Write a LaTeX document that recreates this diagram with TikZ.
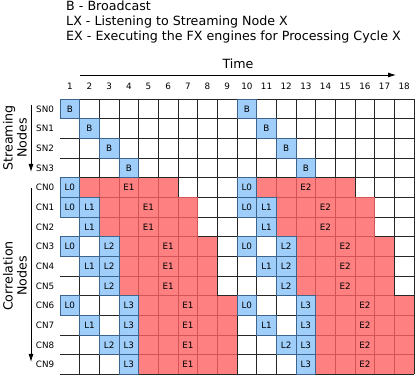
\documentclass[tikz,border=0pt]{standalone}
\usepackage{fontspec}
\setmainfont{DejaVu Sans}
\usetikzlibrary{arrows.meta}
\definecolor{bcast}{RGB}{136,194,249}
\definecolor{bcline}{RGB}{60,100,140}
\definecolor{exec}{RGB}{255,96,96}

\begin{document}
\begin{tikzpicture}[x=0.03cm, y=-0.03cm,
  big/.style={font=\fontsize{10.8}{12}\selectfont, inner sep=0pt},
  lbl/.style={font=\fontsize{7.5}{8}\selectfont, inner sep=0pt},
  grd/.style={draw=black!85, line width=0.7pt},
  bc/.style={fill=bcast, fill opacity=0.8, draw=bcline, line width=0.7pt},
  ec/.style={fill=exec, fill opacity=0.8},
  arr/.style={-{Latex[length=2.4mm,width=1.5mm]}, line width=0.7pt}
]
  \useasboundingbox (0,0) rectangle (415,376);

  % legend
  \node[big, anchor=base west] (lgb) at (66,11) {B - Broadcast};
  \node[big, anchor=base west] (lgl) at (66,26) {LX - Listening to Streaming Node X};
  \node[big, anchor=base west] (lge) at (66,41) {EX - Executing the FX engines for Processing Cycle X};

  % time axis
  \node[big] (time) at (238,64) {Time};
  \coordinate (t0) at (80,75);
  \coordinate (t1) at (396,75);
  \draw[arr] (t0) -- (t1);

  % node groups on the left
  \node[big, rotate=90, align=center] (sn) at (15,138) {Streaming\\Nodes};
  \coordinate (sn0) at (31,105);
  \coordinate (sn1) at (31,172);
  \draw[arr] (sn0) -- (sn1);
  \node[big, rotate=90, align=center] (cn) at (15,276) {Correlation\\Nodes};
  \coordinate (cn0) at (31,188);
  \coordinate (cn1) at (31,362);
  \draw[arr] (cn0) -- (cn1);

  \begin{scope}[shift={(60,99)}, x=0.59cm, y=-0.59cm]
    % grid
    \foreach \r in {0,...,14} \draw[grd] (0,\r) -- (18,\r);
    \foreach \c in {1,...,18} \draw[grd] (\c,0) -- (\c,14);

    % column and row labels
    \foreach \c in {1,...,18} \node[lbl] (col\c) at (\c-0.5,-0.66) {\c};
    \foreach \n [count=\r from 0] in {SN0,SN1,SN2,SN3,CN0,CN1,CN2,CN3,CN4,CN5,CN6,CN7,CN8,CN9}
      \node[lbl] (row\r) at (-0.76,\r+0.5) {\n};

    % execution runs (row/group)
    \foreach \r/\g in {4/0,5/1,6/1,7/2,8/2,9/2,10/3,11/3,12/3,13/3}
      \foreach \o/\e in {0/1,9/2} {
        \fill[ec] (\g+\o+1,\r) rectangle (\g+\o+6,\r+1);
        \node[lbl] (e\r-\e) at (\g+\o+3.5,\r+0.5) {E\e};
      }

    % broadcasts
    \foreach \k in {0,...,3}
      \foreach \o in {0,9} {
        \draw[bc] (\k+\o,\k) rectangle +(1,1);
        \node[lbl] (b\k-\o) at (\k+\o+0.5,\k+0.5) {B};
      }

    % listening (row/streaming nodes)
    \foreach \r/\ls in {4/{0},5/{0,1},6/{1},7/{0,2},8/{1,2},9/{2},10/{0,3},11/{1,3},12/{2,3},13/{3}}
      \foreach \i in \ls
        \foreach \o in {0,9} {
          \draw[bc] (\i+\o,\r) rectangle +(1,1);
          \node[lbl] (l\r-\i-\o) at (\i+\o+0.5,\r+0.5) {L\i};
        }
  \end{scope}
\end{tikzpicture}
\end{document}
